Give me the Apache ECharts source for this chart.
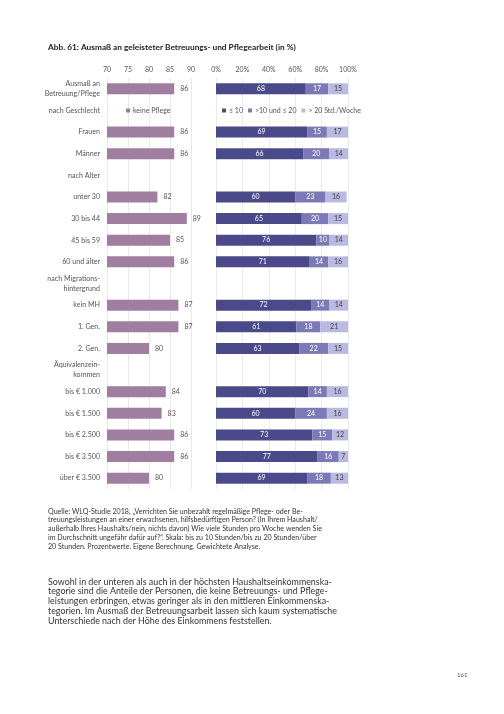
<!DOCTYPE html>
<html>
<head>
<meta charset="utf-8">
<script src="https://cdn.jsdelivr.net/npm/echarts@6/dist/echarts.min.js"></script>
<style>
  html, body { margin: 0; padding: 0; background: #fff; }
  #chart { width: 504px; height: 714px; }
</style>
</head>
<body>
<div id="chart"></div>
<script>
const categories = [
  'Ausmaß an\nBetreuung/Pflege', 'nach Geschlecht', 'Frauen', 'Männer',
  'nach Alter', 'unter 30', '30 bis 44', '45 bis 59', '60 und älter',
  'nach Migrations-\nhintergrund', 'kein MH', '1. Gen.', '2. Gen.',
  'Äquivalenzein-\nkommen', 'bis € 1.000', 'bis € 1.500', 'bis € 2.500',
  'bis € 3.500', 'über € 3.500'
]
const keinePflege = [86, null, 86, 86, null, 82, 89, 85, 86, null, 87, 87, 80, null, 84, 83, 86, 86, 80]
const bis10 = [68, null, 69, 66, null, 60, 65, 76, 71, null, 72, 61, 63, null, 70, 60, 73, 77, 69]
const bis20 = [17, null, 15, 20, null, 23, 20, 10, 14, null, 14, 18, 22, null, 14, 24, 15, 16, 18]
const ueber20 = [15, null, 17, 14, null, 16, 15, 14, 16, null, 14, 21, 15, null, 16, 16, 12, 7, 13]
const leftTicks = [70, 75, 80, 85, 90]
const rightTicks = [0, 20, 40, 60, 80, 100]

const font = 'Lato'
const grey = '#555'

const sourceLines = [
  'Quelle: WLQ-Studie 2018, „Verrichten Sie unbezahlt regelmäßige Pflege- oder Be-',
  'treuungsleistungen an einer erwachsenen, hilfsbedürftigen Person? (In Ihrem Haushalt/',
  'außerhalb Ihres Haushalts/nein, nichts davon) Wie viele Stunden pro Woche wenden Sie',
  'im Durchschnitt ungefähr dafür auf?“. Skala: bis zu 10 Stunden/bis zu 20 Stunden/über',
  '20 Stunden. Prozentwerte. Eigene Berechnung. Gewichtete Analyse.'
]
const bodyLines = [
  'Sowohl in der unteren als auch in der höchsten Haushaltseinkommenska-',
  'tegorie sind die Anteile der Personen, die keine Betreuungs- und Pflege-',
  'leistungen erbringen, etwas geringer als in den mittleren Einkommenska-',
  'tegorien. Im Ausmaß der Betreuungsarbeit lassen sich kaum systematische',
  'Unterschiede nach der Höhe des Einkommens feststellen.'
]

const chart = echarts.init(document.getElementById('chart'))

const segLabel = (color) => ({
  show: true,
  position: 'inside',
  color: color,
  fontSize: 7,
  fontFamily: font
})

chart.setOption({
  animation: false,
  textStyle: { fontFamily: font },
  title: {
    text: 'Abb. 61: Ausmaß an geleisteter Betreuungs- und Pflegearbeit (in %)',
    left: 48,
    top: 43,
    padding: 0,
    textStyle: { fontSize: 8.3, fontWeight: 'bold', color: '#222', fontFamily: font }
  },
  legend: [
    {
      data: ['keine Pflege'],
      left: 126,
      top: 107,
      padding: 0,
      itemWidth: 4,
      itemHeight: 4,
      itemGap: 5,
      icon: 'rect',
      textStyle: { fontSize: 7, color: grey, fontFamily: font, padding: [0, 0, 0, -2] }
    },
    {
      data: ['≤ 10', '>10 und ≤ 20', '> 20 Std./Woche'],
      left: 222,
      top: 107,
      padding: 0,
      itemWidth: 4,
      itemHeight: 4,
      itemGap: 5,
      icon: 'rect',
      textStyle: { fontSize: 7, color: grey, fontFamily: font, padding: [0, 0, 0, -2] }
    }
  ],
  grid: [
    { left: 107, top: 78, width: 84, height: 411 },
    { left: 216, top: 78, width: 132, height: 411 }
  ],
  xAxis: [
    {
      gridIndex: 0,
      type: 'value',
      position: 'top',
      min: leftTicks[0],
      max: leftTicks[leftTicks.length - 1],
      interval: 5,
      axisLine: { show: false },
      axisTick: { show: false },
      axisLabel: { fontSize: 7, color: grey, margin: 5 },
      splitLine: { lineStyle: { color: '#e2e2e2', width: 0.8 } }
    },
    {
      gridIndex: 1,
      type: 'value',
      position: 'top',
      min: rightTicks[0],
      max: rightTicks[rightTicks.length - 1],
      interval: 20,
      axisLine: { show: false },
      axisTick: { show: false },
      axisLabel: { fontSize: 7, color: grey, margin: 5, formatter: '{value}%' },
      splitLine: { lineStyle: { color: '#e6e6e6', width: 0.8 } }
    }
  ],
  yAxis: [
    {
      gridIndex: 0,
      type: 'category',
      inverse: true,
      data: categories,
      axisLine: { show: false },
      axisTick: { show: false },
      axisLabel: { fontSize: 7.1, color: grey, margin: 7, lineHeight: 10, align: 'right' }
    },
    {
      gridIndex: 1,
      type: 'category',
      inverse: true,
      data: categories,
      axisLine: { show: false },
      axisTick: { show: false },
      axisLabel: { show: false }
    }
  ],
  series: [
    {
      name: 'keine Pflege',
      type: 'bar',
      xAxisIndex: 0,
      yAxisIndex: 0,
      data: keinePflege,
      barWidth: 11,
      itemStyle: { color: '#a07e9f' },
      label: { show: true, position: 'right', color: grey, fontSize: 7, distance: 6, fontFamily: font }
    },
    {
      name: '≤ 10',
      type: 'bar',
      stack: 'h',
      xAxisIndex: 1,
      yAxisIndex: 1,
      data: bis10,
      barWidth: 11,
      itemStyle: { color: '#4a4989' },
      label: segLabel('#fff')
    },
    {
      name: '>10 und ≤ 20',
      type: 'bar',
      stack: 'h',
      xAxisIndex: 1,
      yAxisIndex: 1,
      data: bis20,
      barWidth: 11,
      itemStyle: { color: '#7c7ab6' },
      label: segLabel('#fff')
    },
    {
      name: '> 20 Std./Woche',
      type: 'bar',
      stack: 'h',
      xAxisIndex: 1,
      yAxisIndex: 1,
      data: ueber20,
      barWidth: 11,
      itemStyle: { color: '#bab9e0' },
      label: segLabel('#444')
    }
  ],
  graphic: [
    {
      type: 'text',
      left: 48,
      top: 507,
      style: { text: sourceLines.join('\n'), fontSize: 7.1, lineHeight: 8.8, fill: '#333', fontFamily: font }
    },
    {
      type: 'text',
      left: 48,
      top: 577,
      style: { text: bodyLines.join('\n'), fontSize: 8.9, lineHeight: 9.7, fill: '#333', fontFamily: font }
    },
    {
      type: 'text',
      left: 457,
      top: 672,
      style: { text: '161', fontSize: 6, fill: '#555', fontFamily: font }
    }
  ]
})
</script>
</body>
</html>
